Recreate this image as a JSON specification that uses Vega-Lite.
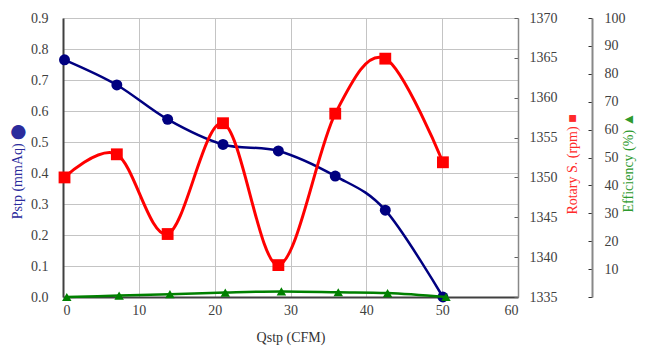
{
  "$schema": "https://vega.github.io/schema/vega-lite/v6.json",
  "width": 455,
  "height": 279,
  "autosize": {"type": "none"},
  "padding": {"left": 63, "top": 18, "right": 129, "bottom": 59},
  "background": "white",
  "config": {
    "font": "Liberation Serif",
    "view": {"stroke": null},
    "axis": {
      "labelFont": "Liberation Serif",
      "titleFont": "Liberation Serif",
      "labelFontSize": 14,
      "titleFontSize": 14,
      "titleFontWeight": "normal",
      "labelColor": "#404040",
      "gridColor": "#c4c4c4",
      "gridWidth": 1
    }
  },
  "datasets": {
    "pstp": [
      {"q": 0.2, "v": 0.765},
      {"q": 7.1, "v": 0.684},
      {"q": 13.8, "v": 0.573},
      {"q": 21.1, "v": 0.492},
      {"q": 28.4, "v": 0.471},
      {"q": 35.9, "v": 0.39},
      {"q": 42.5, "v": 0.28},
      {"q": 50.1, "v": 0.0}
    ],
    "rpm": [
      {"q": 0.2, "v": 1350.0},
      {"q": 7.1, "v": 1352.9},
      {"q": 13.8, "v": 1342.9},
      {"q": 21.1, "v": 1356.8},
      {"q": 28.4, "v": 1339.0},
      {"q": 35.9, "v": 1358.0},
      {"q": 42.5, "v": 1364.9},
      {"q": 50.1, "v": 1351.9}
    ],
    "eff": [
      {"q": 0.5, "v": 0.0},
      {"q": 7.4, "v": 0.5},
      {"q": 14.1, "v": 1.0},
      {"q": 21.4, "v": 1.6},
      {"q": 28.8, "v": 2.0},
      {"q": 36.3, "v": 1.7},
      {"q": 42.8, "v": 1.4},
      {"q": 50.5, "v": 0.0}
    ]
  },
  "layer": [
    {
      "data": {"name": "pstp"},
      "mark": {"type": "line", "interpolate": "cardinal", "color": "#000080", "strokeWidth": 2.5, "clip": false,
        "point": {"filled": true, "shape": "circle", "size": 120, "color": "#000080", "opacity": 1}},
      "encoding": {
        "x": {"field": "q", "type": "quantitative",
          "scale": {"domain": [0, 60], "nice": false},
          "axis": {"title": "Qstp (CFM)", "titleColor": "#333333", "values": [0, 10, 20, 30, 40, 50, 60], "grid": true, "ticks": false,
            "labelFont": "Liberation Serif", "titleFont": "Liberation Serif",
            "domainColor": "#404040", "domainWidth": 2, "labelPadding": 6, "titlePadding": 13}},
        "y": {"field": "v", "type": "quantitative",
          "scale": {"domain": [0, 0.9], "nice": false, "zero": false},
          "axis": {"orient": "left", "title": "Pstp (mmAq) ⬤", "titleColor": "#2b2b9c", "titleY": 153,
            "labelFont": "Liberation Serif", "titleFont": "Liberation Serif",
            "values": [0, 0.1, 0.2, 0.3, 0.4, 0.5, 0.6, 0.7, 0.8, 0.9], "format": ".1f",
            "ticks": false, "labelPadding": 15, "titlePadding": 6, "grid": true,
            "domainColor": "#404040", "domainWidth": 2}}
      }
    },
    {
      "data": {"name": "rpm"},
      "mark": {"type": "line", "interpolate": "cardinal", "color": "#ff0000", "strokeWidth": 3, "clip": false,
        "point": {"filled": true, "shape": "square", "size": 140, "color": "#ff0000", "opacity": 1}},
      "encoding": {
        "x": {"field": "q", "type": "quantitative"},
        "y": {"field": "v", "type": "quantitative",
          "scale": {"domain": [1335, 1370], "nice": false, "zero": false},
          "axis": {"orient": "right", "title": "Rotary S. (rpm) ■", "titleColor": "#ff2a2a", "titleAngle": 270, "titleY": 146,
            "labelFont": "Liberation Serif", "titleFont": "Liberation Serif", "format": "d",
            "values": [1335, 1340, 1345, 1350, 1355, 1360, 1365, 1370],
            "grid": false, "ticks": true, "tickSize": -4, "tickColor": "#606060", "labelPadding": 15, "titlePadding": 22,
            "domainColor": "#888888", "domainWidth": 1.5}}
      }
    },
    {
      "data": {"name": "eff"},
      "mark": {"type": "line", "interpolate": "cardinal", "color": "#008000", "strokeWidth": 2.5, "clip": false,
        "point": {"filled": true, "shape": "triangle-up", "size": 90, "color": "#008000", "opacity": 1}},
      "encoding": {
        "x": {"field": "q", "type": "quantitative"},
        "y": {"field": "v", "type": "quantitative",
          "scale": {"domain": [0, 100], "nice": false, "zero": false},
          "axis": {"orient": "right", "offset": 74, "title": "Efficiency (%) ▲", "titleColor": "#2e9a2e", "titleAngle": 270, "titleY": 144,
            "labelFont": "Liberation Serif", "titleFont": "Liberation Serif",
            "values": [0, 10, 20, 30, 40, 50, 60, 70, 80, 90, 100],
            "labelExpr": "datum.value === 0 ? '' : datum.label",
            "grid": false, "ticks": true, "tickSize": -4, "tickColor": "#303030", "labelPadding": 16, "titlePadding": 10,
            "domainColor": "#888888", "domainWidth": 2}}
      }
    }
  ],
  "resolve": {"scale": {"y": "independent"}}
}
